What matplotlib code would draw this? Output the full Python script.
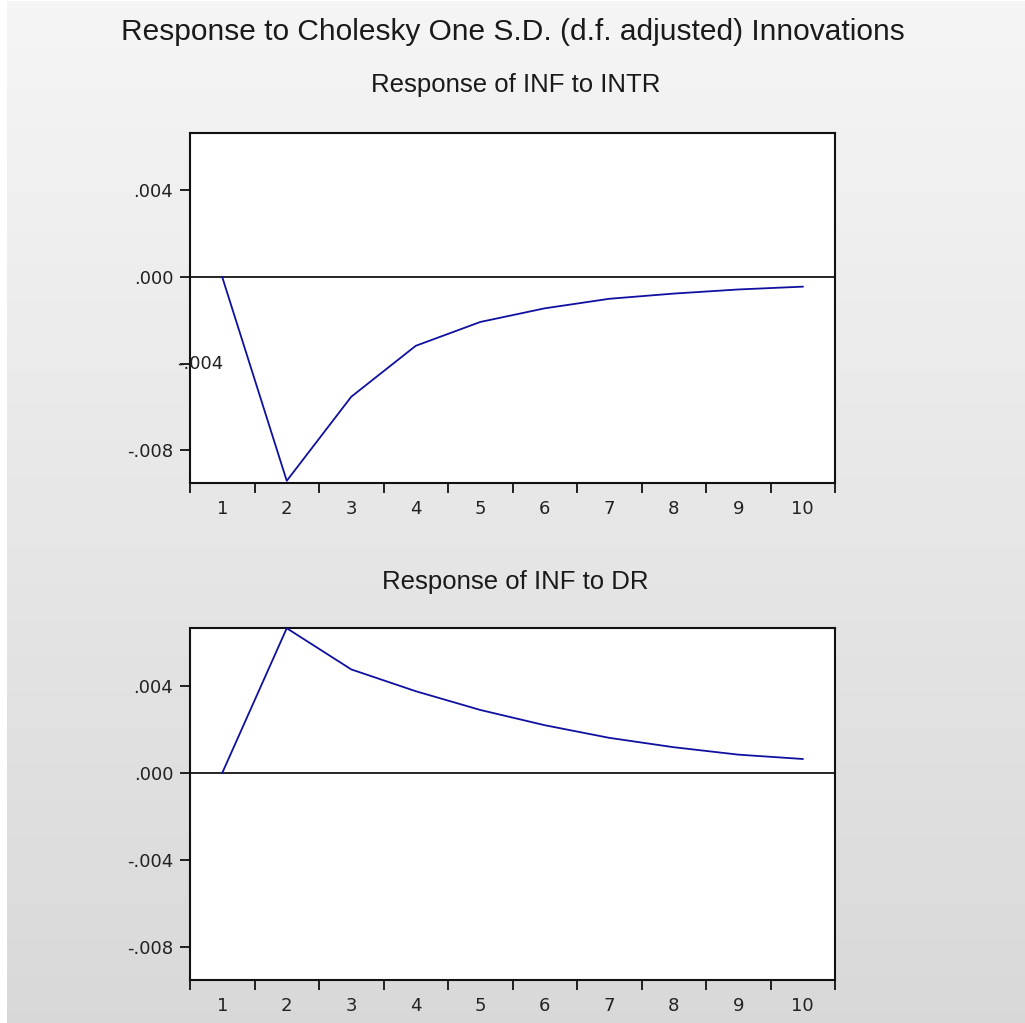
import numpy as np
import matplotlib
matplotlib.use("Agg")
import matplotlib.pyplot as plt
from matplotlib.ticker import FixedLocator, NullFormatter, FixedFormatter

# ---- data ----
periods = [1, 2, 3, 4, 5, 6, 7, 8, 9, 10]
resp_inf_intr = [0.0, -0.0094, -0.00552, -0.00317, -0.00207, -0.00144,
                 -0.00100, -0.00076, -0.00057, -0.00044]
resp_inf_dr = [0.0, 0.00664, 0.00475, 0.00375, 0.00289, 0.00219,
               0.00161, 0.00118, 0.00084, 0.00064]
ytick_vals = [-0.008, -0.004, 0.0, 0.004]
ytick_labels = ["-.008", "-.004", ".000", ".004"]
main_title = "Response to Cholesky One S.D. (d.f. adjusted) Innovations"
panel_titles = ["Response of INF to INTR", "Response of INF to DR"]

W, H = 1025, 1023
fig = plt.figure(figsize=(W / 100, H / 100), dpi=100)
fig.patch.set_facecolor("white")

# background gradient panel
bg = fig.add_axes([7 / W, 0, 1 - 7 / W, 1 - 1 / H])
grad = np.linspace(0.962, 0.85, 256).reshape(-1, 1)
bg.imshow(np.dstack([grad, grad, grad]), aspect="auto", extent=[0, 1, 0, 1])
bg.set_axis_off()

title_font = ["Liberation Sans", "DejaVu Sans"]
fig.text(0.5, 1 - 32 / H, main_title, ha="center", va="center",
         fontsize=21.5, family=title_font, color="#1a1a1a")

line_color = "#1010a0"
tick_fs = 13

def make_panel(rect, values, title, title_y, shift_label=False):
    ax = fig.add_axes(rect)
    ax.set_facecolor("white")
    ax.plot(periods, values, color=line_color, lw=1.3, zorder=3)
    ax.axhline(0, color="black", lw=1.2, zorder=2)
    ax.set_xlim(0.5, 10.5)
    ax.set_ylim(-0.0095, 0.00665)
    for s in ax.spines.values():
        s.set_linewidth(1.5)
        s.set_color("#111111")
    # x axis: ticks at boundaries, labels at centers
    ax.xaxis.set_major_locator(FixedLocator(np.arange(0.5, 11.0, 1.0)))
    ax.xaxis.set_major_formatter(NullFormatter())
    ax.xaxis.set_minor_locator(FixedLocator(periods))
    ax.xaxis.set_minor_formatter(FixedFormatter([str(p) for p in periods]))
    ax.tick_params(axis="x", which="major", direction="out", length=7,
                   width=1.3, color="#111111")
    ax.tick_params(axis="x", which="minor", length=0, pad=12,
                   labelsize=tick_fs, labelcolor="#222222")
    ax.set_yticks(ytick_vals)
    labels = list(ytick_labels)
    if shift_label:
        labels[1] = ""
    ax.set_yticklabels(labels)
    ax.tick_params(axis="y", direction="out", length=7, width=1.3,
                   pad=5, labelsize=tick_fs, labelcolor="#222222",
                   color="#111111")
    for lab in ax.get_xticklabels(minor=True) + ax.get_yticklabels():
        lab.set_family("DejaVu Sans")
    if shift_label:
        ax.text(0.052, -0.004, "-.004", transform=ax.get_yaxis_transform(),
                ha="right", va="center", fontsize=tick_fs, color="#222222",
                family="DejaVu Sans", zorder=5)
    fig.text(0.503, title_y, title, ha="center", va="center",
             fontsize=18.5, family=title_font, color="#1a1a1a")
    return ax

left = 190 / W
width = (835 - 190) / W
make_panel([left, 1 - 483 / H, width, (483 - 133) / H], resp_inf_intr,
           panel_titles[0], 1 - 85 / H, shift_label=True)
make_panel([left, 1 - 980 / H, width, (980 - 628) / H], resp_inf_dr,
           panel_titles[1], 1 - 582 / H)

fig.savefig("out.png", dpi=100)
